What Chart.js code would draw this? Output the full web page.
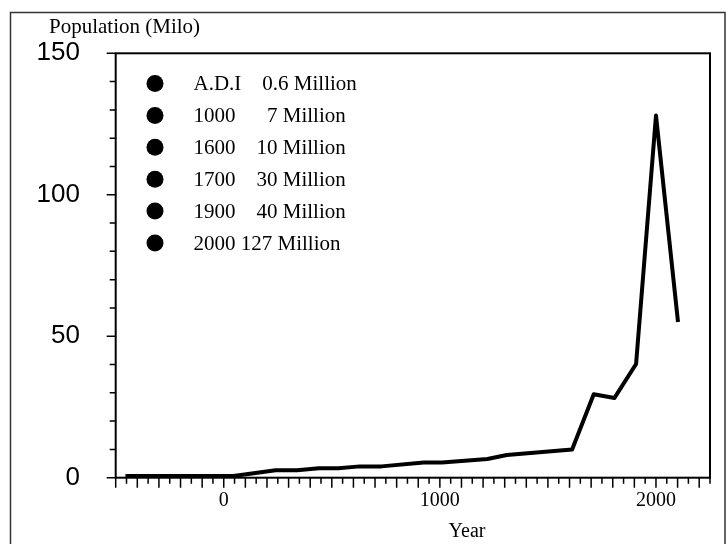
<!DOCTYPE html>
<html>
<head>
<meta charset="utf-8">
<title>Population (Milo)</title>
<script src="https://cdn.jsdelivr.net/npm/chart.js@4/dist/chart.umd.min.js"></script>
<style>
    html, body { margin: 0; padding: 0; background: #fff; }
    #wrap { width: 727px; height: 544px; }
</style>
</head>
<body>
<div id="wrap"><canvas id="chart" width="727" height="544"></canvas></div>
<script>
/* ========================================
   Population (Milo) — line chart
   ======================================== */

// Values
const years = [-455, 45, 240, 340, 440, 530, 630, 730, 925, 1010, 1220, 1310, 1612, 1712, 1808, 1908, 2000, 2102];
const population = [0.6, 0.6, 2.6, 2.6, 3.3, 3.3, 4.0, 4.0, 5.4, 5.4, 6.6, 8.0, 10, 29.5, 28.2, 40.2, 128, 55];

const xTickLabels = [0, 1000, 2000];
const yTickLabels = [0, 50, 100, 150];

const legendEntries = [
    'A.D.I    0.6 Million',
    '1000      7 Million',
    '1600    10 Million',
    '1700    30 Million',
    '1900    40 Million',
    '2000 127 Million'
];

(function () {
    'use strict';

    const SERIF = "'Liberation Serif', 'Times New Roman', serif";
    const SANS = "'Liberation Sans', Arial, sans-serif";

    // Frame, tick marks, titles and the hand-made legend box
    const decorations = {
        id: 'decorations',
        afterDraw(chart) {
            const { ctx, chartArea: a, scales } = chart;
            ctx.save();

            // outer border round the whole figure
            ctx.strokeStyle = '#333';
            ctx.lineWidth = 1.5;
            ctx.strokeRect(10.5, 12.5, 714.5, 600);

            // plot box
            ctx.strokeStyle = '#000';
            ctx.lineWidth = 2;
            ctx.strokeRect(a.left, a.top, a.right - a.left, a.bottom - a.top);

            // tick marks: long on majors, short on the rest
            ctx.lineWidth = 1.5;
            ctx.beginPath();
            scales.y.ticks.forEach(t => {
                const py = scales.y.getPixelForValue(t.value);
                const len = t.value % 50 === 0 ? 9 : 6;
                ctx.moveTo(a.left - len, py);
                ctx.lineTo(a.left, py);
            });
            scales.x.ticks.forEach(t => {
                const px = scales.x.getPixelForValue(t.value);
                const len = t.value % 100 === 0 ? 10 : 6;
                ctx.moveTo(px, a.bottom);
                ctx.lineTo(px, a.bottom + len);
            });
            ctx.stroke();

            // axis titles
            ctx.fillStyle = '#000';
            ctx.font = '21px ' + SERIF;
            ctx.textAlign = 'left';
            ctx.textBaseline = 'alphabetic';
            ctx.fillText('Population (Milo)', 49, 33);

            ctx.font = '20px ' + SERIF;
            ctx.textAlign = 'center';
            ctx.fillText('Year', 467, 537);

            // legend
            ctx.font = '21px ' + SERIF;
            ctx.textAlign = 'left';
            ctx.textBaseline = 'middle';
            legendEntries.forEach((txt, i) => {
                const cy = 83.5 + i * 31.9;
                ctx.beginPath();
                ctx.arc(155, cy, 8.5, 0, Math.PI * 2);
                ctx.fill();
                ctx.fillText(txt, 193.5, cy + 1);
            });

            ctx.restore();
        }
    };

    new Chart(document.getElementById('chart'), {
        type: 'line',
        data: {
            datasets: [{
                label: 'Population',
                data: years.map((yr, i) => ({ x: yr, y: population[i] })),
                borderColor: '#000',
                borderWidth: 4,
                borderJoinStyle: 'round',
                pointRadius: 0,
                tension: 0,
                fill: false
            }]
        },
        options: {
            responsive: false,
            animation: false,
            layout: { padding: { top: 53.3, right: 17, left: 0, bottom: 0 } },
            plugins: {
                legend: { display: false },
                tooltip: { enabled: false }
            },
            scales: {
                x: {
                    type: 'linear',
                    min: -500,
                    max: 2250,
                    grid: { display: false, drawTicks: false },
                    border: { display: false },
                    ticks: {
                        stepSize: 50,
                        autoSkip: false,
                        maxRotation: 0,
                        padding: 11,
                        color: '#000',
                        font: { family: SERIF, size: 20 },
                        callback: v => xTickLabels.includes(v) ? String(v) : ''
                    },
                    afterFit: s => { s.height = 544 - 477.7; }
                },
                y: {
                    min: 0,
                    max: 150,
                    grid: { display: false, drawTicks: false },
                    border: { display: false },
                    ticks: {
                        stepSize: 10,
                        autoSkip: false,
                        padding: 35.7,
                        color: '#000',
                        font: { family: SANS, size: 26 },
                        callback: v => yTickLabels.includes(v) ? String(v) : ''
                    },
                    afterFit: s => { s.width = 115.7; }
                }
            }
        },
        plugins: [decorations]
    });
})();
</script>
</body>
</html>
